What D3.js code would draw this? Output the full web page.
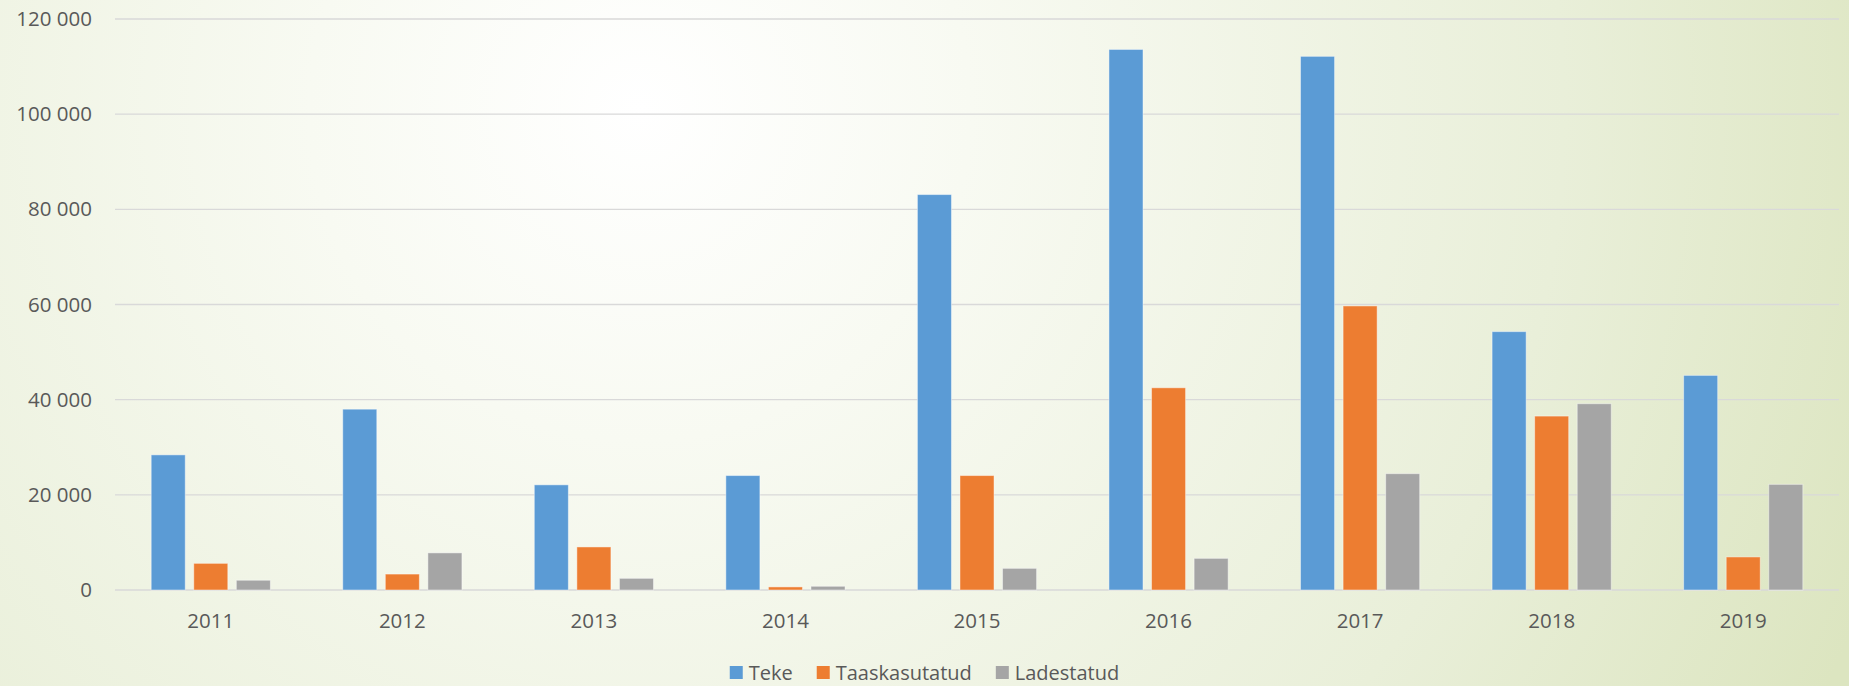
<!DOCTYPE html>
<html>
<head>
<meta charset="utf-8">
<script src="https://cdn.jsdelivr.net/npm/d3@7"></script>
<style>
  html, body { margin: 0; padding: 0; background: #fff; }
  svg { display: block; }
  text { font-family: "Open Sans", "Noto Sans", sans-serif; fill: #595959; }
</style>
</head>
<body>
<div id="chart"></div>
<script>
const years = ["2011","2012","2013","2014","2015","2016","2017","2018","2019"];
const seriesNames = ["Teke","Taaskasutatud","Ladestatud"];
const teke = [28400, 38000, 22100, 24050, 83100, 113600, 112150, 54300, 45100];
const taaskasutatud = [5600, 3350, 9050, 650, 24050, 42500, 59700, 36550, 6950];
const ladestatud = [2050, 7800, 2450, 780, 4550, 6650, 24450, 39150, 22200];
const yTicks = [0, 20000, 40000, 60000, 80000, 100000, 120000];
const colors = ["#5b9bd5", "#ed7d31", "#a5a5a5"];

const W = 1849, H = 686;
const plot = {left: 115, right: 1839, top: 19, bottom: 590};

const svg = d3.select("#chart").append("svg").attr("width", W).attr("height", H);

// background gradient
const defs = svg.append("defs");
const grad = defs.append("radialGradient").attr("id", "bg")
  .attr("gradientUnits", "userSpaceOnUse")
  .attr("cx", 640).attr("cy", 110).attr("r", 1320);
grad.append("stop").attr("offset", "0").attr("stop-color", "#ffffff");
grad.append("stop").attr("offset", "0.25").attr("stop-color", "#f8faf2");
grad.append("stop").attr("offset", "0.7").attr("stop-color", "#e9efd9");
grad.append("stop").attr("offset", "1").attr("stop-color", "#dce5c0");
svg.append("rect").attr("width", W).attr("height", H).attr("fill", "url(#bg)");

const y = d3.scaleLinear().domain([0, 120000]).range([plot.bottom, plot.top]);
const x0 = d3.scaleBand().domain(years).range([plot.left, plot.right]).padding(0);
const x1 = d3.scaleBand().domain(seriesNames).range([0, x0.bandwidth()])
  .paddingInner(0.2).paddingOuter(0.85);

const locale = d3.formatLocale({decimal: ",", thousands: " ", grouping: [3], currency: ["", ""]});
const fmt = locale.format(",d");

// gridlines
svg.append("g").selectAll("line").data(yTicks).join("line")
  .attr("x1", plot.left).attr("x2", plot.right)
  .attr("y1", d => y(d)).attr("y2", d => y(d))
  .attr("stroke", "#d9d9d9").attr("stroke-width", 1.4);

// y axis labels
const yAxis = d3.axisLeft(y).tickValues(yTicks).tickFormat(fmt).tickSize(0).tickPadding(0);
const gy = svg.append("g").attr("transform", "translate(92,0)").call(yAxis);
gy.select(".domain").remove();
gy.selectAll("text").attr("font-size", 20.5).attr("fill", "#595959")
  .style("font-family", '"Open Sans", sans-serif');

// bars
const seriesData = [teke, taaskasutatud, ladestatud];
const groups = svg.append("g").selectAll("g").data(years).join("g")
  .attr("transform", d => `translate(${x0(d)},0)`);
groups.selectAll("rect").data((d, i) => seriesNames.map((s, k) => ({s, k, v: seriesData[k][i]})))
  .join("rect")
  .attr("x", d => x1(d.s))
  .attr("width", x1.bandwidth())
  .attr("y", d => y(d.v))
  .attr("height", d => y(0) - y(d.v))
  .attr("fill", d => colors[d.k])
  .attr("stroke", "rgba(255,255,255,0.45)")
  .attr("stroke-width", 1);

// x axis labels
const xAxis = d3.axisBottom(x0).tickSize(0).tickPadding(0);
const gx = svg.append("g").attr("transform", `translate(0,${plot.bottom})`).call(xAxis);
gx.select(".domain").remove();
gx.selectAll("text").attr("font-size", 20.5).attr("fill", "#595959")
  .attr("y", 38).attr("dy", 0)
  .style("font-family", '"Open Sans", sans-serif');

// legend
const legend = svg.append("g");
const items = legend.selectAll("g").data(seriesNames).join("g");
items.append("rect").attr("width", 13).attr("height", 13).attr("y", 666)
  .attr("fill", (d, i) => colors[i]);
items.append("text").attr("x", 19).attr("y", 680).attr("font-size", 20).text(d => d);
let widths = [];
items.each(function() { widths.push(19 + d3.select(this).select("text").node().getComputedTextLength()); });
const gap = 24;
const total = d3.sum(widths) + gap * (widths.length - 1);
let cx = W / 2 - total / 2;
items.each(function(d, i) {
  d3.select(this).attr("transform", `translate(${cx},0)`);
  cx += widths[i] + gap;
});
</script>
</body>
</html>
